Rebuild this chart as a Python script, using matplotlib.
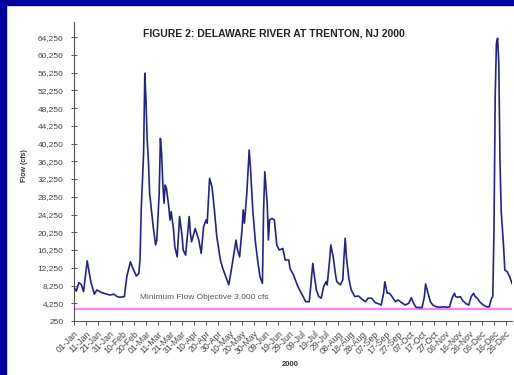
import numpy as np
import pandas as pd
import matplotlib
matplotlib.use("Agg")
import matplotlib.pyplot as plt
import matplotlib.dates as mdates
from matplotlib.patches import Rectangle

plt.rcParams['font.family'] = ['Liberation Sans', 'DejaVu Sans']

# daily flow readings, day of year 2000 -> cfs
day = [1, 3, 5, 7, 9, 12, 15, 18, 20, 24, 31, 34, 37, 39, 43, 45, 48, 50, 53, 55,
       56, 57, 59, 60, 61, 62, 63, 64, 67, 69, 70, 72, 73, 74, 75, 76, 77, 78, 80, 81,
       82, 84, 85, 87, 89, 91, 92, 94, 97, 98, 99, 102, 105, 107, 109, 111, 112, 114, 116, 118,
       120, 123, 125, 128, 130, 133, 136, 137, 139, 141, 142, 143, 145, 147, 148, 150, 152, 154, 156, 158,
       159, 160, 162, 163, 164, 166, 168, 170, 172, 175, 177, 180, 181, 184, 187, 189, 192, 194, 197, 198,
       200, 201, 203, 205, 207, 209, 211, 212, 214, 215, 217, 219, 220, 223, 225, 226, 227, 228, 230, 232,
       235, 238, 241, 244, 246, 249, 252, 255, 257, 259, 260, 262, 264, 266, 269, 271, 274, 277, 280, 282,
       284, 286, 291, 293, 294, 296, 298, 300, 303, 306, 309, 312, 314, 316, 318, 319, 321, 323, 325, 328,
       330, 332, 334, 335, 337, 339, 342, 345, 347, 349, 350, 351, 352, 353, 354, 355, 356, 357, 359, 360,
       362, 364, 366]
flow = [7800, 7000, 8900, 8500, 6900, 13800, 9100, 6300, 7250, 6650, 6100, 6300, 5750, 5600, 5750, 10250, 13600, 12150, 10400, 11000,
        14000, 25300, 38000, 56100, 50000, 41000, 36500, 29100, 21500, 17400, 18500, 29100, 41400, 38000, 31300, 26800, 30900, 30200, 26000, 23000,
        24900, 20800, 17000, 14700, 23800, 19600, 16250, 15100, 23800, 20000, 18100, 21100, 18500, 15500, 21500, 23000, 22300, 32400, 30500, 25300,
        19250, 14000, 12100, 9900, 8400, 13250, 18500, 16600, 14700, 20800, 25300, 22300, 29000, 38800, 35000, 25300, 18500, 14000, 10200, 8750,
        25300, 33900, 26800, 18500, 23000, 23400, 23000, 17400, 16250, 16600, 14000, 14000, 12100, 10600, 8400, 7250, 5750, 4600, 4600, 7250,
        13250, 11000, 7250, 5750, 5400, 8000, 9100, 8400, 14000, 17400, 14700, 10600, 9100, 8400, 9500, 14700, 18900, 14700, 9900, 7250,
        5750, 5900, 5150, 4600, 5400, 5400, 4400, 4100, 3850, 6500, 9100, 6500, 6500, 5750, 4600, 5000, 4400, 3850, 4250, 5500,
        4250, 3350, 3250, 5750, 8600, 6500, 4600, 3850, 3450, 3350, 3450, 3350, 3450, 5400, 6500, 5750, 5600, 5750, 4800, 4100,
        3850, 5750, 6500, 5900, 5400, 4600, 3850, 3450, 3450, 5400, 5750, 20800, 50800, 62800, 64000, 58300, 36000, 25000, 17000, 11750,
        11350, 10250, 8750]

min_flow = 3000
y_ticks = np.arange(250, 64251, 4000)

dates = pd.Timestamp("2000-01-01") + pd.to_timedelta(np.array(day) - 1, unit="D")
tick_dates = pd.date_range("2000-01-01", "2000-12-31", freq="10D")

fig = plt.figure(figsize=(5.14, 3.75), dpi=100)
fig.patch.set_facecolor("white")

# dark blue frame along the top and left edges
fig.patches.append(Rectangle((0, 1 - 5 / 375), 1, 5 / 375, transform=fig.transFigure,
                             color="#00009c", zorder=0))
fig.patches.append(Rectangle((0, 0), 6 / 514, 1, transform=fig.transFigure,
                             color="#00009c", zorder=0))

ax = fig.add_axes([74 / 514, 54 / 375, 438 / 514, 299 / 375])
ax.plot(dates, flow, color="#24247e", lw=1.2, zorder=3)
ax.axhline(min_flow, color="#ff80ff", lw=1.6, zorder=2)
ax.text(0.151, 0.077, "Minimum Flow Objective 3,000 cfs", transform=ax.transAxes,
        fontsize=6, color="#555555", va="center", ha="left")

ax.set_xlim(pd.Timestamp("2000-01-01"), pd.Timestamp("2000-12-31"))
ax.set_ylim(250, 67650)
ax.set_yticks(y_ticks)
ax.set_yticklabels([f"{v:,}" for v in y_ticks])
ax.set_xticks(tick_dates)
ax.set_xticklabels([d.strftime("%d-%b") for d in tick_dates], rotation=45,
                   ha="right", va="top", rotation_mode="anchor")

for side in ["top", "right"]:
    ax.spines[side].set_visible(False)
for side in ["left", "bottom"]:
    ax.spines[side].set_color("#555555")
    ax.spines[side].set_linewidth(0.8)

ax.tick_params(axis="y", direction="inout", length=5, width=0.7, colors="#555555",
               labelsize=6, labelcolor="#444444", pad=5)
ax.tick_params(axis="x", direction="out", length=3, width=0.7, colors="#555555",
               labelsize=6.3, labelcolor="#444444", pad=3)

fig.text(25 / 514, 1 - 166 / 375, "Flow (cfs)", rotation=90, fontsize=5, fontweight="bold",
         color="#333333", ha="center", va="center")
fig.text(290 / 514, 1 - 365 / 375, "2000", fontsize=5.5, fontweight="bold",
         color="#333333", ha="center", va="center")
fig.text(274 / 514, 1 - 33 / 375, "FIGURE 2: DELAWARE RIVER AT TRENTON, NJ 2000",
         fontsize=7.5, fontweight="bold", color="#222222", ha="center", va="center")

fig.savefig("out.png", dpi=100)
